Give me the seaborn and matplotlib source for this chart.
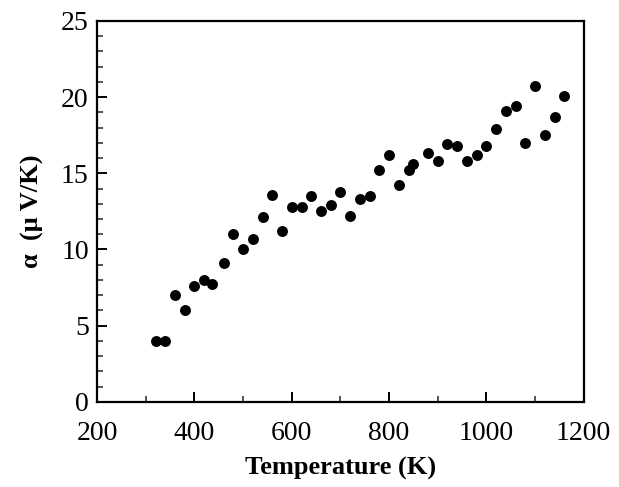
import pandas as pd
import matplotlib.pyplot as plt
from matplotlib.ticker import MultipleLocator
import seaborn as sns

# ─── DATA ─────────────────────────────────────────────────────────────────────
temperature = [320, 340, 360, 380, 400, 420, 435, 460, 480, 500, 520, 540,
               560, 580, 600, 620, 640, 660, 680, 700, 720, 740, 760, 780,
               800, 820, 840, 850, 880, 900, 920, 940, 960, 980, 1000, 1020,
               1040, 1060, 1080, 1100, 1120, 1140, 1160]
seebeck = [4.0, 4.0, 7.0, 6.0, 7.6, 8.0, 7.7, 9.1, 11.0, 10.0, 10.7, 12.1,
           13.6, 11.2, 12.8, 12.8, 13.5, 12.5, 12.9, 13.8, 12.2, 13.3, 13.5, 15.2,
           16.2, 14.2, 15.2, 15.6, 16.3, 15.8, 16.9, 16.8, 15.8, 16.2, 16.8, 17.9,
           19.1, 19.4, 17.0, 20.7, 17.5, 18.7, 20.1]

df = pd.DataFrame({'T': temperature, 'alpha': seebeck})

# ─── STYLE ────────────────────────────────────────────────────────────────────
sns.set_style('ticks')
plt.rcParams['font.family'] = ['Liberation Serif', 'DejaVu Serif']
plt.rcParams['text.color'] = 'black'
plt.rcParams['axes.labelcolor'] = 'black'

fig, ax = plt.subplots(figsize=(6.19, 4.87), dpi=100)
fig.subplots_adjust(left=0.157, right=0.943, bottom=0.175, top=0.957)

sns.scatterplot(data=df, x='T', y='alpha', ax=ax, color='black',
                s=62, edgecolor='black', linewidth=0, legend=False)

ax.set_xlim(200, 1200)
ax.set_ylim(0, 25)
ax.xaxis.set_major_locator(MultipleLocator(200))
ax.xaxis.set_minor_locator(MultipleLocator(100))
ax.yaxis.set_major_locator(MultipleLocator(5))
ax.yaxis.set_minor_locator(MultipleLocator(1))

for sp in ax.spines.values():
    sp.set_linewidth(1.6)
    sp.set_color('black')

ax.tick_params(which='major', direction='in', length=7, width=1.4,
               labelsize=20, colors='black')
ax.tick_params(which='minor', direction='in', length=4, width=1.1)
ax.tick_params(axis='x', which='major', pad=14)
ax.tick_params(axis='y', which='major', pad=6)
ax.tick_params(top=False, right=False, which='both')

ax.set_xlabel('Temperature (K)', fontsize=19, fontweight='bold', labelpad=8)
ax.set_ylabel('α  (μ V/K)', fontsize=19, fontweight='bold', labelpad=12)

fig.savefig('out.png', dpi=100)
